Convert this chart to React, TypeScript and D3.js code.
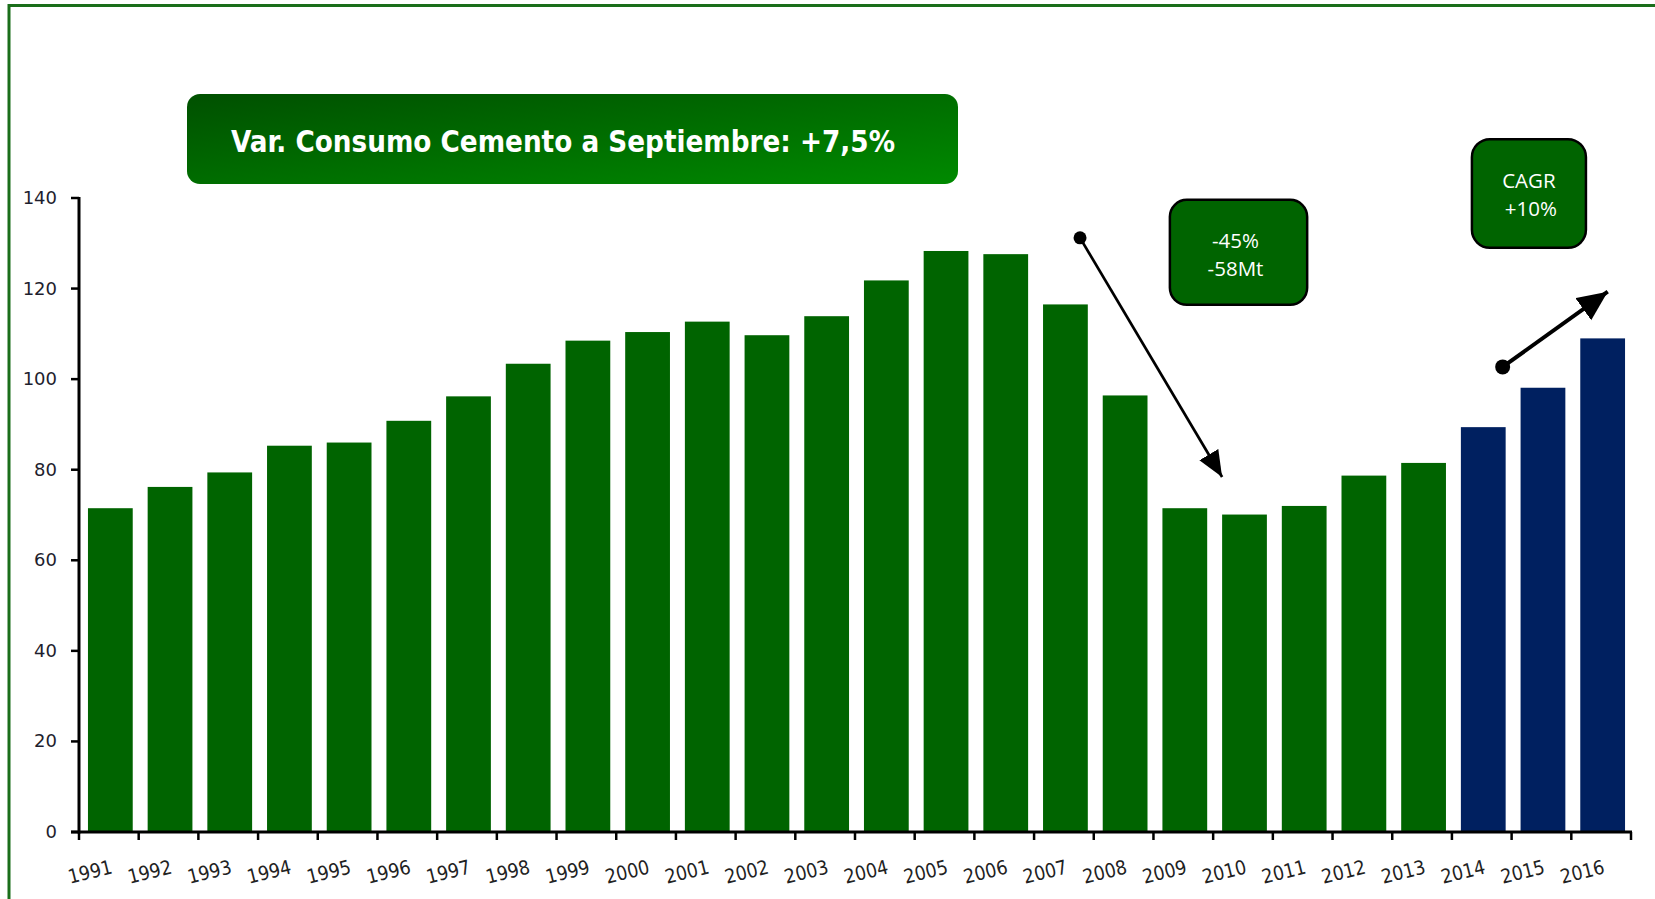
import * as d3 from 'd3'

const years = [
  '1991', '1992', '1993', '1994', '1995', '1996', '1997', '1998', '1999', '2000',
  '2001', '2002', '2003', '2004', '2005', '2006', '2007', '2008', '2009', '2010',
  '2011', '2012', '2013', '2014', '2015', '2016',
]
const consumo = [
  71.5, 76.2, 79.4, 85.3, 86.0, 90.8, 96.2, 103.4, 108.5, 110.4,
  112.7, 109.7, 113.9, 121.8, 128.3, 127.6, 116.5, 96.4, 71.5, 70.1,
  72.0, 78.7, 81.5, 89.4, 98.1, 109.0,
]
const forecastYears = ['2014', '2015', '2016']
const yTicks = [0, 20, 40, 60, 80, 100, 120, 140]

const titleText = 'Var. Consumo Cemento a Septiembre: +7,5%'
const dropLines = ['-45%', '-58Mt']
const cagrLines = ['CAGR', '+10%']

const W = 1655
const H = 899
const AXIS_X0 = 79
const AXIS_X1 = 1631
const AXIS_Y0 = 832
const AXIS_Y1 = 198

const GREEN = '#006400'
const NAVY = '#002060'

export default function App() {
  const x = d3.scaleBand<string>().domain(years).range([AXIS_X0 + 1.5, AXIS_X1 + 1.5]).paddingInner(0.25).paddingOuter(0.125)
  const step = x.step()
  const bandStart = (yr: string) => AXIS_X0 + years.indexOf(yr) * step
  const y = d3.scaleLinear().domain([0, 140]).range([AXIS_Y0, AXIS_Y1])

  // annotation anchors in data space (year + fraction of band, value)
  const drop = {
    x1: bandStart('2007') + 0.77 * step, y1: y(131.2),
    x2: bandStart('2010') + 0.15 * step, y2: y(78.4),
  }
  const grow = {
    x1: bandStart('2014') + 0.85 * step, y1: y(102.7),
    x2: bandStart('2016') + 0.61 * step, y2: y(119.3),
  }
  const box1 = { x: bandStart('2009') + 0.275 * step, y: y(139.6), w: 2.3 * step, h: y(116.4) - y(139.6) }
  const box2 = { x: bandStart('2014') + 0.335 * step, y: y(153), w: 1.91 * step, h: y(129) - y(153) }

  const boundaries = d3.range(years.length + 1).map((i) => AXIS_X0 + i * step)

  return (
    <div style={{ position: 'fixed', left: 0, top: 0 }}>
      <svg width={W} height={H} style={{ display: 'block', background: '#fff' }}>
        <defs>
          <linearGradient id="titleGrad" x1="0%" y1="0%" x2="100%" y2="100%">
            <stop offset="0%" stopColor="#005000" />
            <stop offset="100%" stopColor="#008a00" />
          </linearGradient>
          <marker id="head1" markerUnits="userSpaceOnUse" markerWidth="30" markerHeight="24" refX="26" refY="11" orient="auto">
            <path d="M0,0 L26,11 L0,22 Z" fill="#000" />
          </marker>
          <marker id="head2" markerUnits="userSpaceOnUse" markerWidth="34" markerHeight="30" refX="30" refY="13.5" orient="auto">
            <path d="M0,0 L30,13.5 L0,27 Z" fill="#000" />
          </marker>
        </defs>

        {/* outer frame */}
        <path d={`M9,${H} L9,5.5 L${W},5.5`} fill="none" stroke="#1a6e1a" strokeWidth={3} />

        {/* title box */}
        <rect x={187} y={94} width={771} height={90} rx={13} fill="url(#titleGrad)" />
        <text
          x={231}
          y={152}
          fill="#fff"
          fontFamily="'DejaVu Sans Condensed', 'DejaVu Sans', sans-serif"
          fontWeight="bold"
          fontSize={31}
          textLength={664}
          lengthAdjust="spacingAndGlyphs"
        >
          {titleText}
        </text>

        {/* bars */}
        {years.map((yr, i) => (
          <rect
            key={yr}
            x={x(yr)}
            y={y(consumo[i])}
            width={x.bandwidth()}
            height={y(0) - y(consumo[i])}
            fill={forecastYears.includes(yr) ? NAVY : GREEN}
          />
        ))}

        {/* y axis */}
        <line x1={AXIS_X0} x2={AXIS_X0} y1={AXIS_Y1 - 1} y2={AXIS_Y0 + 1.5} stroke="#000" strokeWidth={3} />
        {yTicks.map((t) => (
          <g key={t}>
            <line x1={AXIS_X0 - 8} x2={AXIS_X0} y1={y(t)} y2={y(t)} stroke="#000" strokeWidth={2.5} />
            <text
              x={57}
              y={y(t) + 6}
              textAnchor="end"
              fontFamily="'DejaVu Sans', Verdana, sans-serif"
              fontSize={18}
              fill="#1e1e2e"
            >
              {t}
            </text>
          </g>
        ))}

        {/* x axis */}
        <line x1={AXIS_X0 - 8} x2={AXIS_X1 + 1} y1={AXIS_Y0} y2={AXIS_Y0} stroke="#000" strokeWidth={3} />
        {boundaries.map((bx, i) => (
          <line key={i} x1={bx} x2={bx} y1={AXIS_Y0} y2={AXIS_Y0 + 8} stroke="#000" strokeWidth={2.5} />
        ))}
        {years.map((yr) => {
          const cx = (x(yr) ?? 0) + x.bandwidth() / 2 + 3
          const cy = 873
          return (
            <text
              key={yr}
              x={cx}
              y={cy}
              transform={`rotate(-14,${cx},${cy})`}
              textAnchor="end"
              fontFamily="'DejaVu Sans Condensed', 'DejaVu Sans', sans-serif"
              fontSize={19.5}
              fill="#222"
            >
              {yr}
            </text>
          )
        })}

        {/* drop arrow */}
        <line x1={drop.x1} y1={drop.y1} x2={drop.x2} y2={drop.y2} stroke="#000" strokeWidth={2.7} markerEnd="url(#head1)" />
        <circle cx={drop.x1} cy={drop.y1} r={6.5} fill="#000" />

        {/* growth arrow */}
        <line x1={grow.x1} y1={grow.y1} x2={grow.x2} y2={grow.y2} stroke="#000" strokeWidth={4} markerEnd="url(#head2)" />
        <circle cx={grow.x1} cy={grow.y1} r={7.5} fill="#000" />

        {/* annotation boxes */}
        <rect x={box1.x} y={box1.y} width={box1.w} height={box1.h} rx={17} fill={GREEN} stroke="#000" strokeWidth={2.5} />
        {dropLines.map((t, i) => (
          <text
            key={t}
            x={box1.x + box1.w / 2 - 3}
            y={box1.y + 48 + i * 28}
            textAnchor="middle"
            fontFamily="'Open Sans', 'Noto Sans', sans-serif"
            fontSize={20.5}
            fill="#fff"
          >
            {t}
          </text>
        ))}
        <rect x={box2.x} y={box2.y} width={box2.w} height={box2.h} rx={18} fill={GREEN} stroke="#000" strokeWidth={2.5} />
        {cagrLines.map((t, i) => (
          <text
            key={t}
            x={box2.x + box2.w / 2 + (i === 1 ? 2 : 0)}
            y={box2.y + 49 + i * 28}
            textAnchor="middle"
            fontFamily="'Open Sans', 'Noto Sans', sans-serif"
            fontSize={20.5}
            fill="#fff"
          >
            {t}
          </text>
        ))}
      </svg>
    </div>
  )
}
